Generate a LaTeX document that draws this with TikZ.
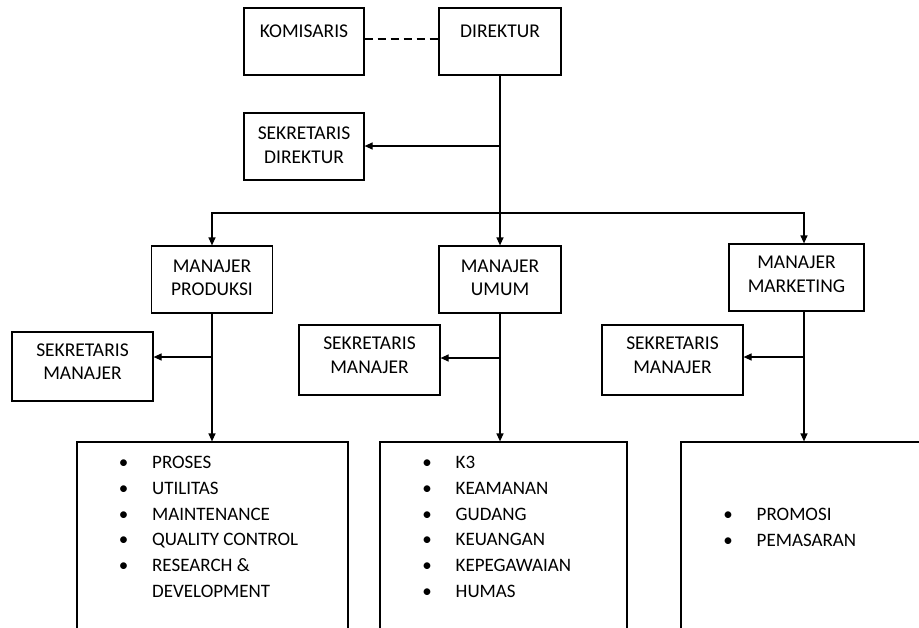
\documentclass[tikz,border=0pt]{standalone}
\usepackage{fontspec}
\setmainfont{Carlito}
\usetikzlibrary{arrows.meta,calc}
\newcommand\mydp[1]{\rule[-#1pt]{0pt}{0pt}}
\newcommand\bul{\makebox[10pt][c]{•}\hspace*{23.5pt}}
\begin{document}
\begin{tikzpicture}[x=1pt,y=-1pt,
  box/.style={draw, line width=1.2pt, inner sep=0pt, align=center,
    font=\fontsize{19.5}{23.5}\selectfont},
  arr/.style={line width=1.2pt, -{Triangle[length=8pt,width=7pt]}},
  con/.style={line width=1.2pt},
  lst/.style={inner sep=0pt, anchor=north west, align=left,
    font=\fontsize{19}{25.8}\selectfont}]
\path[use as bounding box] (0,0) rectangle (919,627);
\clip (0,0) rectangle (919,627);

% top level
\node[box, minimum width=120pt, minimum height=67pt] (kom) at (304,41.5) {KOMISARIS\mydp{21}};
\node[box, minimum width=122pt, minimum height=67pt] (dir) at (500,41.5) {DIREKTUR\mydp{21}};
\node[box, minimum width=120pt, minimum height=67pt] (sekdir) at (304,146.5) {SEKRETARIS\\DIREKTUR\mydp{3}};

% managers
\node[box, minimum width=121pt, minimum height=67pt] (mprod) at (212,279.5) {MANAJER\\PRODUKSI\mydp{4}};
\node[box, minimum width=122pt, minimum height=67pt] (mumum) at (500,279.5) {MANAJER\\UMUM\mydp{4}};
\node[box, minimum width=135pt, minimum height=67pt] (mmark) at (796.5,277.5) {MANAJER\\MARKETING\mydp{7}};

% secretaries
\node[box, minimum width=141pt, minimum height=69pt] (sm1) at (82.5,366.5) {SEKRETARIS\\MANAJER\mydp{10}};
\node[box, minimum width=141pt, minimum height=70pt] (sm2) at (369.5,360) {SEKRETARIS\\MANAJER\mydp{10}};
\node[box, minimum width=141pt, minimum height=70pt] (sm3) at (672.5,360) {SEKRETARIS\\MANAJER\mydp{10}};

% bottom boxes (clipped by the page)
\node[box, minimum width=271pt, minimum height=258pt] (b1) at (212.5,571) {};
\node[box, minimum width=247pt, minimum height=258pt] (b2) at (503.5,571) {};
\node[box, minimum width=299pt, minimum height=258pt] (b3) at (830.5,571) {};

\node[lst] (l1) at (118.5,456) {\bul PROSES\\\bul UTILITAS\\\bul MAINTENANCE\\\bul QUALITY CONTROL\\\bul RESEARCH \&\\\hspace*{33.5pt}DEVELOPMENT};
\node[lst] (l2) at (422,456) {\bul K3\\\bul KEAMANAN\\\bul GUDANG\\\bul KEUANGAN\\\bul KEPEGAWAIAN\\\bul HUMAS};
\node[lst] (l3) at (723,508) {\bul PROMOSI\\\bul PEMASARAN};

% connectors
\draw[con, dash pattern=on 8pt off 5pt] ([yshift=2.5pt]kom.east) -- ([yshift=2.5pt]dir.west);

\coordinate (sd) at (500,146);
\coordinate (bm) at (500,213);
\coordinate (bl) at (212,213);
\coordinate (br) at (804,213);
\draw[con] (dir.south) -- (bm);
\draw[arr] (sd) -- (sd -| sekdir.east);
\draw[arr] (bm) -- (mumum.north);
\draw[arr] (bm) -- (bl) -- (bl |- mprod.north);
\draw[arr] (bm) -- (br) -- (br |- mmark.north);

\coordinate (p1) at (212,357);
\coordinate (p2) at (500,358);
\coordinate (p3) at (804,357);
\draw[arr] (mprod.south) -- (mprod.south |- b1.north);
\draw[arr] (p1) -- (p1 -| sm1.east);
\draw[arr] (mumum.south) -- (mumum.south |- b2.north);
\draw[arr] (p2) -- (p2 -| sm2.east);
\draw[arr] (br |- mmark.south) -- (br |- b3.north);
\draw[arr] (p3) -- (p3 -| sm3.east);
\end{tikzpicture}
\end{document}
